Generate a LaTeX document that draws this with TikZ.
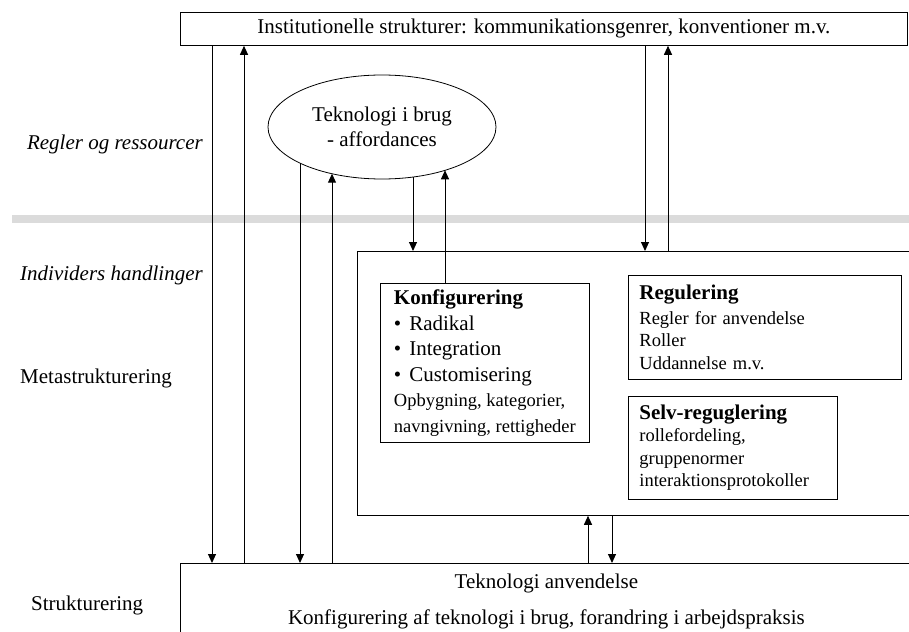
\documentclass[tikz,border=0pt]{standalone}
\usepackage{fontspec}
\setmainfont{Liberation Serif}
\usetikzlibrary{shapes.geometric,arrows.meta}

\begin{document}
\begin{tikzpicture}[x=1pt,y=-1pt,
		box/.style={draw,line width=0.8pt,inner sep=0pt},
		pil/.style={line width=1pt,-{Triangle[length=9pt,width=8pt]}},
		txt/.style={font=\fontsize{21}{25}\selectfont,inner sep=0pt},
		ital/.style={font=\fontsize{21}{25}\selectfont\itshape,inner sep=0pt},
		lille/.style={font=\fontsize{18.5}{22.5}\selectfont}]
		\useasboundingbox (0,0) rectangle (909,631);
		\clip (0,0) rectangle (909,631);
		\fill[gray!28] (12,215) rectangle (909,223);
		\node[box,txt,anchor=north west,minimum width=727,minimum height=33] (inst) at (180,12) {Institutionelle strukturer: kommunikationsgenrer, konventioner m.v.};
		\node[box,txt,ellipse,minimum width=228,minimum height=104,align=center] (tib) at (382,127) {Teknologi i brug\\- affordances};
		\node[box,anchor=north west,minimum width=570,minimum height=264] (meta) at (357,251) {};
		\node[box,font=\fontsize{21}{25.5}\selectfont,anchor=north west,minimum width=209,minimum height=159,inner xsep=11pt,align=left] (konf) at (380,283)
			{{\bfseries Konfigurering}\\
			\textbullet\hspace{8pt}Radikal\\
			\textbullet\hspace{8pt}Integration\\
			\textbullet\hspace{8pt}Customisering\\
			{\fontsize{18.5}{22.5}\selectfont Opbygning, kategorier,}\\
			{\fontsize{18.5}{22.5}\selectfont navngivning, rettigheder}};
		\node[box,lille,anchor=north west,minimum height=104,inner xsep=11pt,text width=251,align=left] (regu) at (628,275)
			{{\fontsize{21}{25}\selectfont\bfseries Regulering}\\[2pt]
			Regler for anvendelse\\
			Roller\\
			Uddannelse m.v.};
		\node[box,lille,anchor=north west,minimum height=103,inner xsep=11pt,text width=187,align=left] (selv) at (628,396)
			{{\fontsize{21}{25}\selectfont\bfseries Selv-reguglering}\\
			rollefordeling,\\
			gruppenormer\\
			interaktionsprotokoller};
		\node[box,txt,anchor=north west,minimum width=732,minimum height=76,align=center] (anv) at (180,563)
			{Teknologi anvendelse\\[11pt]Konfigurering af teknologi i brug, forandring i arbejdspraksis};
		\node[ital,anchor=east] (regler) at (203,144) {Regler og ressourcer};
		\node[ital,anchor=east] (handl) at (203,275) {Individers handlinger};
		\node[txt,anchor=west] (metastr) at (20,378) {Metastrukturering};
		\node[txt,anchor=west] (strukt) at (31,605) {Strukturering};
		\coordinate (t1) at (300,163.1);
		\coordinate (t2) at (332,173.7);
		\coordinate (t3) at (413,177);
		\coordinate (t4) at (445,170.3);
		\draw[pil] (inst.south -| 212,0) -- (anv.north -| 212,0);
		\draw[pil] (anv.north -| 244,0) -- (inst.south -| 244,0);
		\draw[pil] (t1) -- (anv.north -| t1);
		\draw[pil] (anv.north -| t2) -- (t2);
		\draw[pil] (t3) -- (meta.north -| t3);
		\draw[pil] (konf.north -| t4) -- (t4);
		\draw[pil] (inst.south -| 645,0) -- (meta.north -| 645,0);
		\draw[pil] (meta.north -| 668,0) -- (inst.south -| 668,0);
		\draw[pil] (anv.north -| 588,0) -- (meta.south -| 588,0);
		\draw[pil] (meta.south -| 612,0) -- (anv.north -| 612,0);
	\end{tikzpicture}
\end{document}
